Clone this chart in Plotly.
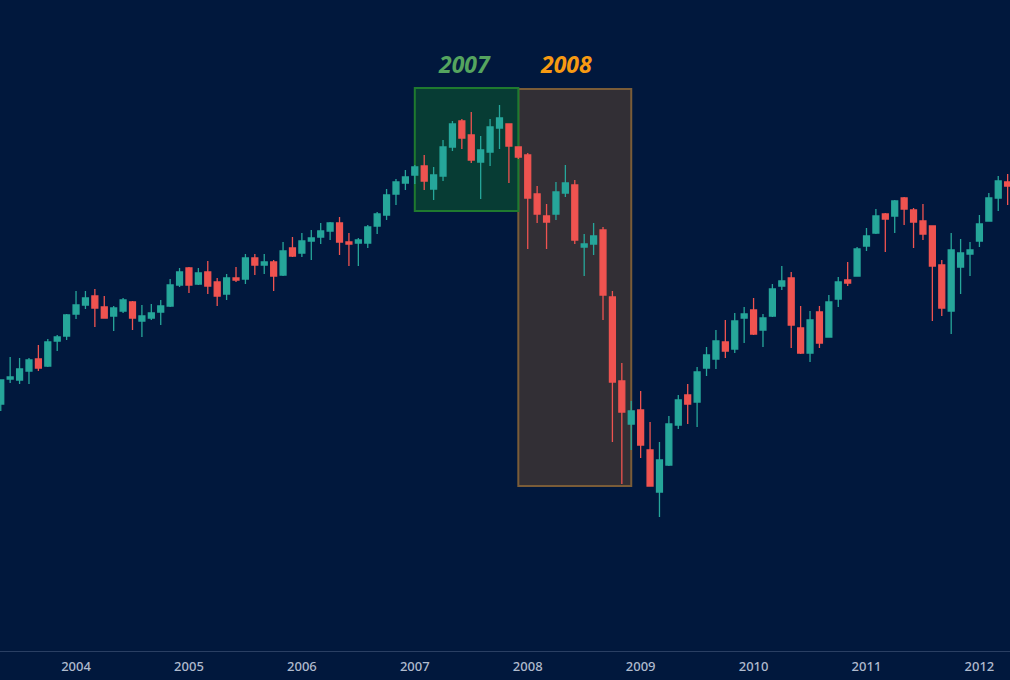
import pandas as pd
import plotly.graph_objects as go

# monthly bars, May 2003 to Apr 2012
months = pd.date_range("2003-05-01", periods=108, freq="MS").strftime("%Y-%m").tolist()

opens = [911.2, 966.2, 964, 983.8, 1010.2, 994.8, 1049.8, 1060.8, 1109.2, 1129, 1148.8, 1124.6, 1104.8, 1115.8, 1135.6, 1093.8, 1100.4, 1113.6, 1126.8, 1173, 1210.4, 1175.2, 1201.6, 1179.6, 1153.2, 1188.4, 1186.2, 1232.4, 1217, 1223.6, 1195, 1254.4, 1243.4, 1269.8, 1278.6, 1291.8, 1309.4, 1267.6, 1265.4, 1265.4, 1302.8, 1327, 1373.2, 1397.4, 1415, 1434.8, 1384.2, 1412.8, 1476.6, 1533.8, 1503, 1443.6, 1465.6, 1518.4, 1527.2, 1476.6, 1459, 1373.2, 1324.8, 1329.2, 1375.4, 1393, 1256.6, 1263.2, 1294, 1146.6, 961.8, 867.2, 898, 810, 717.6, 777, 865, 931, 915.6, 990.4, 1010.2, 1047.6, 1032.2, 1100.4, 1118, 1074, 1104.8, 1170.8, 1188.4, 1078.4, 1023.4, 1113.6, 1058.6, 1142.2, 1184, 1192.8, 1258.8, 1287.4, 1329.2, 1324.8, 1364.4, 1338, 1313.8, 1302.8, 1217, 1115.8, 1212.6, 1241.2, 1269.8, 1313.8, 1364.4, 1399.6]
highs = [964, 1014.6, 1012.4, 1012.4, 1041, 1054.2, 1063, 1109.2, 1159.8, 1159.8, 1164.2, 1148.8, 1126.8, 1144.4, 1137.8, 1129, 1131.2, 1140, 1186.2, 1210.4, 1212.6, 1210.4, 1225.8, 1188.4, 1197.2, 1212.6, 1241.2, 1241.2, 1241.2, 1228, 1267.6, 1278.6, 1287.4, 1294, 1309.4, 1311.6, 1322.6, 1287.4, 1276.4, 1305, 1333.6, 1384.2, 1406.2, 1426, 1437, 1459, 1432.6, 1492, 1533.8, 1538.2, 1553.6, 1500.8, 1538.2, 1569, 1527.2, 1476.6, 1463.4, 1390.8, 1351.2, 1399.6, 1437, 1404, 1285.2, 1309.4, 1300.6, 1159.8, 1001.4, 917.8, 939.8, 871.6, 827.6, 884.8, 931, 955.2, 992.6, 1036.6, 1074, 1096, 1111.4, 1124.6, 1144.4, 1109.2, 1175.2, 1214.8, 1201.6, 1126.8, 1115.8, 1126.8, 1151, 1190.6, 1223.6, 1256.6, 1298.4, 1340.2, 1331.4, 1360, 1366.6, 1342.4, 1351.2, 1302.8, 1228, 1287.4, 1274.2, 1267.6, 1327, 1375.4, 1412.8, 1417.2]
lows = [895.8, 957.4, 955.2, 955.2, 983.8, 992.6, 1027.8, 1052, 1098.2, 1120.2, 1080.6, 1100.4, 1071.8, 1111.4, 1074, 1058.6, 1096, 1085, 1124.6, 1168.6, 1155.4, 1173, 1153.2, 1126.8, 1140, 1179.6, 1175.2, 1195, 1197.2, 1159.8, 1192.8, 1234.6, 1234.6, 1228, 1263.2, 1272, 1239, 1214.8, 1214.8, 1254.4, 1285.2, 1316, 1349, 1382, 1395.2, 1382, 1360, 1401.8, 1467.8, 1472.2, 1441.4, 1362.2, 1434.8, 1472.2, 1397.4, 1450.2, 1252.2, 1309.4, 1252.2, 1316, 1366.6, 1263.2, 1192.8, 1239, 1096, 827.6, 735.2, 810, 792.4, 730.8, 662.6, 774.8, 856.2, 867.2, 860.6, 972.8, 988.2, 1012.4, 1023.4, 1045.4, 1063, 1036.6, 1102.6, 1162, 1034.4, 1021.2, 1003.6, 1034.4, 1058.6, 1124.6, 1170.8, 1192.8, 1247.8, 1285.2, 1245.6, 1287.4, 1305, 1254.4, 1272, 1093.8, 1104.8, 1065.2, 1153.2, 1192.8, 1256.6, 1313.8, 1335.8, 1349]
closes = [964, 970.6, 988.2, 1008, 990.4, 1047.6, 1058.6, 1107, 1129, 1144.4, 1122.4, 1100.4, 1122.4, 1140, 1100.4, 1104.8, 1111.4, 1126.8, 1173, 1201.6, 1173, 1199.4, 1170.8, 1148.8, 1188.4, 1184, 1232.4, 1217, 1223.6, 1192.8, 1247.8, 1236.8, 1269.8, 1276.4, 1291.8, 1309.4, 1267.6, 1263.2, 1272, 1300.6, 1329.2, 1371, 1399.6, 1410.6, 1432.6, 1401.8, 1415, 1476.6, 1527.2, 1496.4, 1448, 1470, 1520.6, 1540.4, 1478.8, 1454.6, 1364.4, 1329.2, 1311.6, 1377.6, 1397.4, 1272, 1263.2, 1280.8, 1151, 959.6, 893.6, 895.8, 821, 730.8, 788, 867.2, 920, 911.2, 981.6, 1019, 1049.8, 1027.8, 1093.8, 1109.2, 1065.2, 1100.4, 1164.2, 1181.8, 1085, 1023.4, 1096, 1045.4, 1135.6, 1179.6, 1177.4, 1252.2, 1280.8, 1324.8, 1318.2, 1357.8, 1340.2, 1311.6, 1285.2, 1214.8, 1122.4, 1250, 1243.4, 1250, 1307.2, 1364.4, 1401.8, 1390.8]

tick_months = ["2004-01", "2005-01", "2006-01", "2007-01", "2008-01", "2009-01", "2010-01", "2011-01", "2012-01"]
tick_labels = ["2004", "2005", "2006", "2007", "2008", "2009", "2010", "2011", "2012"]

BG = "#01183d"
UP = "#26a69a"
DOWN = "#ef5350"

fig = go.Figure(go.Candlestick(
    x=months, open=opens, high=highs, low=lows, close=closes,
    increasing=dict(line=dict(color=UP, width=1.3), fillcolor=UP),
    decreasing=dict(line=dict(color=DOWN, width=1.3), fillcolor=DOWN),
    whiskerwidth=0,
    showlegend=False,
))

# the two year boxes sit behind the candles
fig.add_shape(type="rect", layer="below", x0=55, x1=67, y0=730.8, y1=1604.2,
              fillcolor="#322f35", line=dict(color="#7a5c38", width=2))
fig.add_shape(type="rect", layer="below", x0=44, x1=55, y0=1335.8, y1=1606.4,
              fillcolor="#073c34", line=dict(color="#1f7a2f", width=2))

fig.add_annotation(x=49.3, y=1660, text="<b><i>2007</i></b>", showarrow=False,
                   font=dict(family="Noto Sans", size=23, color="#55a45f"))
fig.add_annotation(x=60.1, y=1660, text="<b><i>2008</i></b>", showarrow=False,
                   font=dict(family="Noto Sans", size=23, color="#f79a12"))

fig.update_layout(
    width=1010, height=680,
    margin=dict(l=0, r=0, t=0, b=29),
    paper_bgcolor=BG, plot_bgcolor=BG,
    boxgap=0.1,
    font=dict(family="Noto Sans"),
)
fig.update_xaxes(
    type="category", range=[-0.08, 107.25],
    rangeslider_visible=False,
    tickmode="array", tickvals=tick_months, ticktext=tick_labels,
    tickangle=0, ticks="", showgrid=False, zeroline=False,
    showline=True, linecolor="#2a3f63", linewidth=1,
    ticklabelstandoff=3,
    tickfont=dict(family="Noto Sans", size=13, color="#b0bbce", weight=500),
)
fig.update_yaxes(range=[367.8, 1800], visible=False, showgrid=False, zeroline=False)

fig.write_html("out.html", config={"displayModeBar": False},
               post_script="document.body.style.margin='0';document.body.style.overflow='hidden';")
